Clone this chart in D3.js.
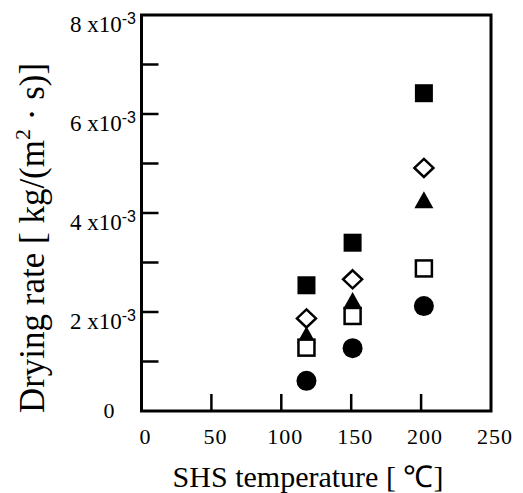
<!DOCTYPE html>
<html>
<head>
<meta charset="utf-8">
<script src="https://cdn.jsdelivr.net/npm/d3@7"></script>
<style>
  html, body { margin: 0; padding: 0; background: #fff; }
  svg { display: block; }
  text { font-family: "Liberation Serif", "Times New Roman", serif; fill: #000; }
</style>
</head>
<body>
<svg id="chart" width="523" height="493"></svg>
<script>
// ---- Data ----
const temperatures = [118, 151, 202];
const filledSquare = [0.00254, 0.00340, 0.00642];
const openDiamond  = [0.00187, 0.00266, 0.00491];
const filledTriangle = [0.00154, 0.00223, 0.00427];
const openSquare   = [0.00128, 0.00192, 0.00288];
const filledCircle = [0.00061, 0.00127, 0.00212];

const xTicks = [0, 50, 100, 150, 200, 250];
const xTickLabels = ["0", "50", "100", "150", "200", "250"];
const yMinorTicks = [0.001, 0.002, 0.003, 0.004, 0.005, 0.006, 0.007];
const yMajorTicks = [0, 0.002, 0.004, 0.006, 0.008];
const yTickMantissa = ["0", "2", "4", "6", "8"];
const yTickExponent = "-3";
const xTitle = "SHS temperature [ \u2103]";

// ---- Layout ----
const svg = d3.select("#chart");
const mLeft = 141.5, mRight = 491, mTop = 15, mBottom = 411;

const x = d3.scaleLinear().domain([0, 250]).range([mLeft, mRight]);
const y = d3.scaleLinear().domain([0, 0.008]).range([mBottom, mTop]);

// ticks (inside, bottom and left only)
const tickLen = 17;
svg.append("g").selectAll("line").data(xTicks.slice(1, -1)).join("line")
  .attr("x1", d => x(d)).attr("x2", d => x(d))
  .attr("y1", mBottom).attr("y2", mBottom - tickLen)
  .attr("stroke", "#000").attr("stroke-width", 2.5);
svg.append("g").selectAll("line").data(yMinorTicks).join("line")
  .attr("x1", mLeft).attr("x2", mLeft + tickLen)
  .attr("y1", d => y(d)).attr("y2", d => y(d))
  .attr("stroke", "#000").attr("stroke-width", 2.5);

// frame
svg.append("rect")
  .attr("x", mLeft).attr("y", mTop)
  .attr("width", mRight - mLeft).attr("height", mBottom - mTop)
  .attr("fill", "none").attr("stroke", "#000").attr("stroke-width", 3);

// x tick labels
svg.append("g").selectAll("text").data(xTicks).join("text")
  .attr("x", d => x(d) + 4).attr("y", 444)
  .attr("text-anchor", "middle")
  .attr("font-size", 22)
  .attr("letter-spacing", 1)
  .text((d, i) => xTickLabels[i]);

// y tick labels
const yl = svg.append("g");
yMajorTicks.forEach((v, i) => {
  if (v === 0) {
    yl.append("text").attr("x", 109).attr("y", y(v) + 7)
      .attr("text-anchor", "middle").attr("font-size", 22).text(yTickMantissa[i]);
  } else {
    const t = yl.append("text").attr("x", 136).attr("y", y(v) + 17)
      .attr("text-anchor", "end").attr("font-size", 23);
    t.append("tspan").text(yTickMantissa[i] + " x10");
    t.append("tspan").attr("font-size", 16).attr("dy", -8)
      .attr("font-family", "Liberation Sans, Arial, sans-serif").text(yTickExponent);
  }
});

// axis titles
svg.append("text")
  .attr("x", 308).attr("y", 487)
  .attr("text-anchor", "middle").attr("font-size", 30)
  .text(xTitle);

const yt = svg.append("text")
  .attr("transform", "translate(44,238) rotate(-90)")
  .attr("text-anchor", "middle").attr("font-size", 35);
yt.append("tspan").text("Drying rate [ kg/(m");
yt.append("tspan").attr("font-size", 22).attr("dy", -14).text("2");
yt.append("tspan").attr("dy", 14).text(" \u00B7 s)]");

// ---- markers ----
const g = svg.append("g");
function pts(vals) { return vals.map((v, i) => ({ t: temperatures[i], v })); }

// filled squares
g.append("g").selectAll("rect").data(pts(filledSquare)).join("rect")
  .attr("x", d => x(d.t) - 9).attr("y", d => y(d.v) - 9)
  .attr("width", 18).attr("height", 18).attr("fill", "#000");

// filled triangles
g.append("g").selectAll("path").data(pts(filledTriangle)).join("path")
  .attr("transform", d => `translate(${x(d.t)},${y(d.v)})`)
  .attr("d", "M0,-8.5L9.5,8.5L-9.5,8.5Z").attr("fill", "#000");

// open squares
g.append("g").selectAll("rect").data(pts(openSquare)).join("rect")
  .attr("x", d => x(d.t) - 8).attr("y", d => y(d.v) - 8)
  .attr("width", 16).attr("height", 16)
  .attr("fill", "#fff").attr("stroke", "#000").attr("stroke-width", 2.5);

// open diamonds
g.append("g").selectAll("path").data(pts(openDiamond)).join("path")
  .attr("transform", d => `translate(${x(d.t)},${y(d.v)})`)
  .attr("d", "M0,-9L9.5,0L0,9L-9.5,0Z")
  .attr("fill", "#fff").attr("stroke", "#000").attr("stroke-width", 2.5);

// filled circles
g.append("g").selectAll("circle").data(pts(filledCircle)).join("circle")
  .attr("cx", d => x(d.t)).attr("cy", d => y(d.v)).attr("r", 10)
  .attr("fill", "#000");
</script>
</body>
</html>
